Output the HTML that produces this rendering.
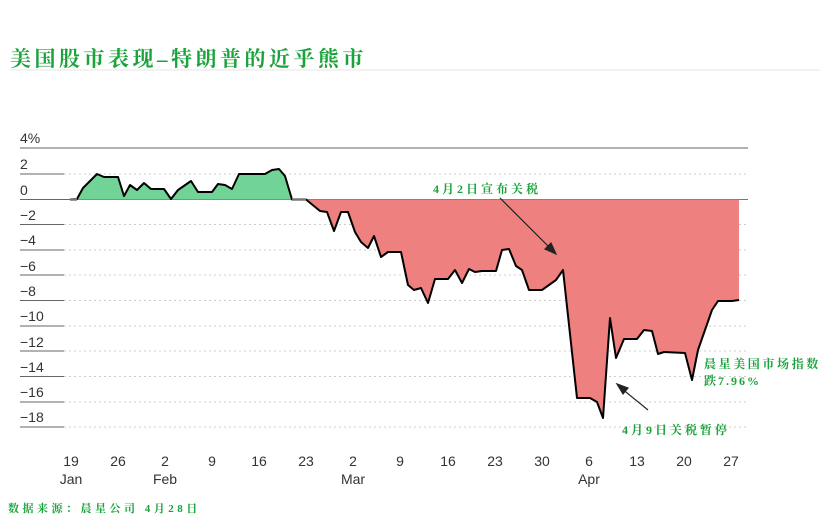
<!DOCTYPE html>
<html><head><meta charset="utf-8"><style>
body{margin:0;background:#fff;width:829px;height:518px;overflow:hidden}
svg{display:block}
.t{font-family:"Liberation Serif","Noto Serif CJK SC",serif;font-weight:bold;fill:#1aa33a}
.ax{font-family:"Liberation Sans Narrow","Liberation Sans",sans-serif;font-size:14px;fill:#333}
</style></head><body>
<svg width="829" height="518" xmlns="http://www.w3.org/2000/svg">
<text x="10" y="66" class="t" font-size="21" letter-spacing="3.5">美国股市表现–特朗普的近乎熊市</text>
<line x1="10" y1="70" x2="820" y2="70" stroke="#e4e4e4" stroke-width="1"/>
<g stroke="#ccc" stroke-dasharray="2,3" stroke-width="1">
<line x1="64" y1="174" x2="748" y2="174"/>
<line x1="64" y1="224.5" x2="748" y2="224.5"/><line x1="64" y1="250" x2="748" y2="250"/>
<line x1="64" y1="275" x2="748" y2="275"/><line x1="64" y1="300.5" x2="748" y2="300.5"/>
<line x1="64" y1="326" x2="748" y2="326"/><line x1="64" y1="351" x2="748" y2="351"/>
<line x1="64" y1="376.5" x2="748" y2="376.5"/><line x1="64" y1="402" x2="748" y2="402"/>
<line x1="64" y1="427" x2="748" y2="427"/>
</g>
<g stroke="#666" stroke-width="1">
<line x1="20" y1="148" x2="748" y2="148"/>
<line x1="20" y1="174" x2="64" y2="174"/><line x1="20" y1="224.5" x2="64" y2="224.5"/>
<line x1="20" y1="250" x2="64" y2="250"/><line x1="20" y1="275" x2="64" y2="275"/>
<line x1="20" y1="300.5" x2="64" y2="300.5"/><line x1="20" y1="326" x2="64" y2="326"/>
<line x1="20" y1="351" x2="64" y2="351"/><line x1="20" y1="376.5" x2="64" y2="376.5"/>
<line x1="20" y1="402" x2="64" y2="402"/><line x1="20" y1="427" x2="64" y2="427"/>
<line x1="20" y1="199.5" x2="748" y2="199.5"/>
</g>
<g class="ax">
<text x="20" y="143">4%</text><text x="20" y="169">2</text><text x="20" y="195">0</text>
<text x="20" y="220">−2</text><text x="20" y="245">−4</text><text x="20" y="271">−6</text>
<text x="20" y="296">−8</text><text x="20" y="321">−10</text><text x="20" y="347">−12</text>
<text x="20" y="372">−14</text><text x="20" y="397">−16</text><text x="20" y="422">−18</text>
</g>
<path fill="#72d396" d="M70,199.5 L77,199 83,188 97,174 104,177 118,177 124,196 130,185 137,190 144,183 151,189 164,189 171,199 178,190 191,181 198,192 212,192 218,184 225,185 232,189 239,174 265,174 272,170 279,169 285,176 292,199.5 Z"/>
<path fill="#ef8080" d="M306,199.5 L320,211 327,212 334,231 341,212 348,212 355,232 361,242 368,248 374,236 381,257 388,252 401,252 408,285 414,290 421,288 428,303 435,279 448,279 455,270 462,283 469,269 475,272 482,271 496,271 502,250 509,249 516,266 522,270 529,290 542,290 556,280 563,270 577,398 590,398 597,402 603,418 610,318 616,358 624,339 637,339 644,330 652,331 658,354 664,352 685,353 692,380 698,350 712,310 718,301 732,301 739,300 739,199.5 Z"/>
<polyline fill="none" stroke="#000" stroke-width="2" stroke-linejoin="round" points="70,199.5 77,199 83,188 97,174 104,177 118,177 124,196 130,185 137,190 144,183 151,189 164,189 171,199 178,190 191,181 198,192 212,192 218,184 225,185 232,189 239,174 265,174 272,170 279,169 285,176 292,199.5 306,199.5 320,211 327,212 334,231 341,212 348,212 355,232 361,242 368,248 374,236 381,257 388,252 401,252 408,285 414,290 421,288 428,303 435,279 448,279 455,270 462,283 469,269 475,272 482,271 496,271 502,250 509,249 516,266 522,270 529,290 542,290 556,280 563,270 577,398 590,398 597,402 603,418 610,318 616,358 624,339 637,339 644,330 652,331 658,354 664,352 685,353 692,380 698,350 712,310 718,301 732,301 739,300"/>
<line x1="70" y1="199.5" x2="77" y2="199.5" stroke="#777" stroke-width="2.5"/>
<line x1="292" y1="199.5" x2="306" y2="199.5" stroke="#777" stroke-width="2.5"/>
<line x1="739" y1="199.5" x2="748" y2="199.5" stroke="#777" stroke-width="1"/>
<g stroke="#222" stroke-width="1.2">
<line x1="500" y1="198" x2="552" y2="250"/><polygon points="556,254 545,249 551,243" fill="#222"/>
<line x1="648" y1="410" x2="621" y2="388"/><polygon points="617,384 628,388 623,394" fill="#222"/>
</g>
<text x="433" y="193" class="t" font-size="12" letter-spacing="3">4月2日宣布关税</text>
<text x="622" y="434" class="t" font-size="12" letter-spacing="3">4月9日关税暂停</text>
<text x="704" y="368" class="t" font-size="12" letter-spacing="2.6">晨星美国市场指数</text>
<text x="704" y="385" class="t" font-size="12" letter-spacing="2">跌7.96%</text>
<g class="ax" text-anchor="middle">
<text x="71" y="466">19</text><text x="118" y="466">26</text><text x="165" y="466">2</text>
<text x="212" y="466">9</text><text x="259" y="466">16</text><text x="306" y="466">23</text>
<text x="353" y="466">2</text><text x="400" y="466">9</text><text x="448" y="466">16</text>
<text x="495" y="466">23</text><text x="542" y="466">30</text><text x="589" y="466">6</text>
<text x="637" y="466">13</text><text x="684" y="466">20</text><text x="731" y="466">27</text>
<text x="71" y="484">Jan</text><text x="165" y="484">Feb</text><text x="353" y="484">Mar</text><text x="589" y="484">Apr</text>
</g>
<text x="8" y="512" class="t" font-size="11" letter-spacing="3.5">数据来源：晨星公司 4月28日</text>
</svg>
</body></html>
